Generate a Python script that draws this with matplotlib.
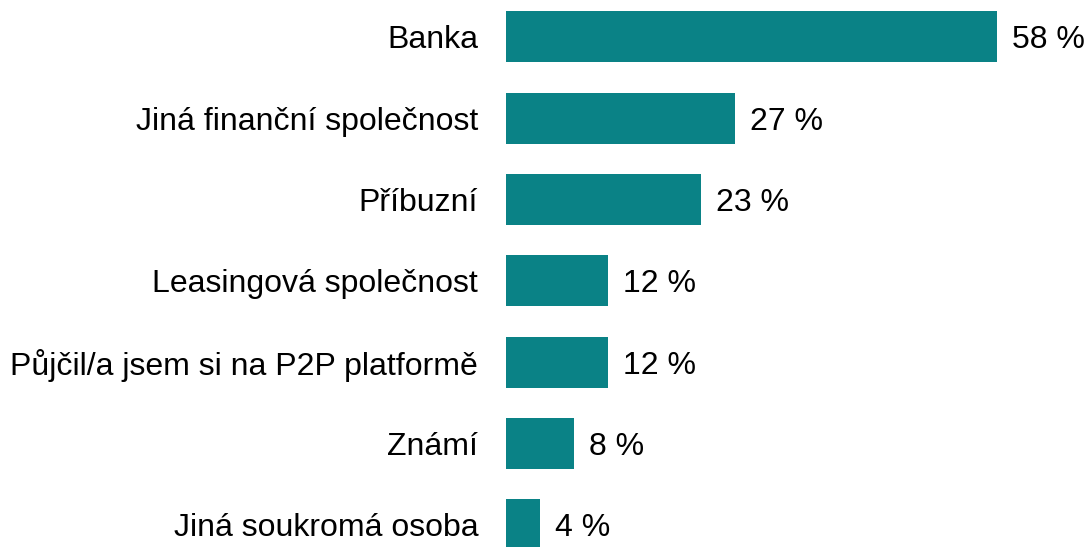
import matplotlib.pyplot as plt

plt.rcParams['font.family'] = ['Liberation Sans', 'DejaVu Sans']

categories = ['Banka', 'Jiná finanční společnost', 'Příbuzní', 'Leasingová společnost',
              'Půjčil/a jsem si na P2P platformě', 'Známí', 'Jiná soukromá osoba']
values = [58, 27, 23, 12, 12, 8, 4]

W, H = 1089, 547
fig = plt.figure(figsize=(W / 100, H / 100), dpi=100)
# osa začíná na x=506 px, výška přes celý obrázek
ax = fig.add_axes([506 / W, 0, (W - 506) / W, 1])

pos = list(range(len(categories)))
ax.barh(pos, values, height=0.627, color='#0A8286')

ax.set_xlim(0, (W - 506) / 8.466)
ax.set_ylim(6.275, -0.453)

for p, v in zip(pos, values):
    ax.annotate(f'{v} %', (v, p), xytext=(11, 0), textcoords='offset points',
                va='center_baseline', ha='left', fontsize=23, color='#000000')

ax.set_yticks(pos)
ax.set_yticklabels(categories, fontsize=23, color='#000000')
ax.tick_params(axis='y', length=0, pad=20)
ax.set_xticks([])
for s in ax.spines.values():
    s.set_visible(False)

fig.savefig('out.png', dpi=100)
